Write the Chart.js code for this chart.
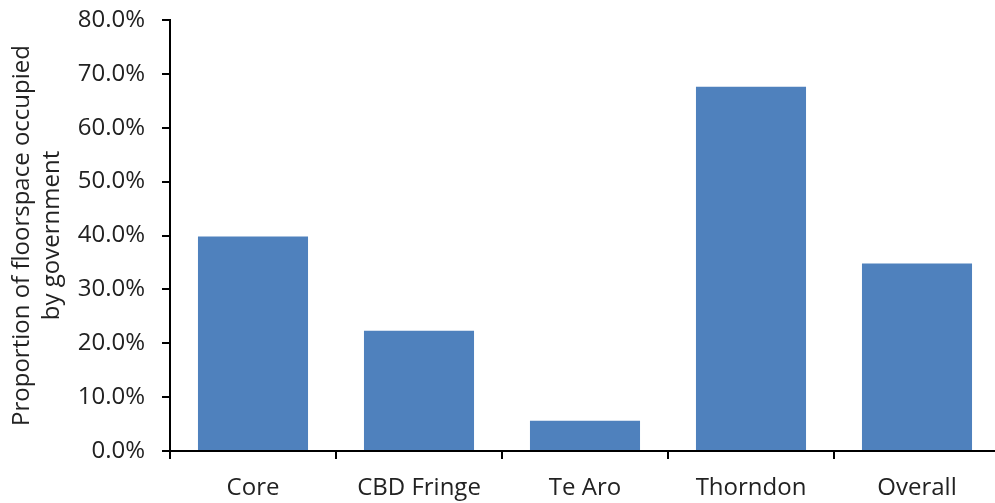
<!DOCTYPE html>
<html>
<head>
<meta charset="utf-8">
<title>Government floorspace share</title>
<script src="https://cdn.jsdelivr.net/npm/chart.js@4/dist/chart.umd.min.js"></script>
<style>
  html, body { margin: 0; padding: 0; background: #fff; overflow: hidden; }
  #wrap { width: 1000px; height: 503px; position: relative; }
</style>
</head>
<body>
<div id="wrap"><canvas id="chart"></canvas></div>
<script>
// 数据
const areas = ['Core', 'CBD Fringe', 'Te Aro', 'Thorndon', 'Overall'];
const govShare = [39.8, 22.3, 5.6, 67.6, 34.8];
const yTicks = [0, 10, 20, 30, 40, 50, 60, 70, 80];
const yTitle = ['Proportion of floorspace occupied', 'by government'];

const textColor = '#222';
const fontFamily = '"Open Sans", "Noto Sans", sans-serif';

new Chart(document.getElementById('chart'), {
  type: 'bar',
  data: {
    labels: areas,
    datasets: [{
      data: govShare,
      backgroundColor: '#4f81bd',
      borderWidth: 0,
      categoryPercentage: 1,
      barPercentage: 0.663
    }]
  },
  options: {
    responsive: true,
    maintainAspectRatio: false,
    animation: false,
    layout: { padding: { top: 20, left: 0, right: 0, bottom: 0 } },
    plugins: {
      legend: { display: false },
      tooltip: { enabled: false }
    },
    scales: {
      x: {
        grid: { drawOnChartArea: false, color: '#000', lineWidth: 2, tickLength: 8, offset: true },
        border: { color: '#000', width: 2 },
        ticks: { color: textColor, padding: 15, font: { family: fontFamily, size: 24 }, maxRotation: 0 },
        afterFit: (s) => { s.height = 52; }
      },
      y: {
        min: yTicks[0],
        max: yTicks[yTicks.length - 1],
        afterBuildTicks: (s) => { s.ticks = yTicks.map(v => ({ value: v })); },
        grid: { drawOnChartArea: false, color: '#000', lineWidth: 2, tickLength: 8 },
        border: { color: '#000', width: 2 },
        ticks: {
          color: textColor,
          padding: 17,
          font: { family: fontFamily, size: 24 },
          callback: (v) => v.toFixed(1) + '%'
        },
        title: {
          display: true,
          text: yTitle,
          color: textColor,
          font: { family: fontFamily, size: 24, lineHeight: 1.25 },
          padding: { top: 7, bottom: 0 }
        },
        afterFit: (s) => { s.width = 170; s.paddingTop = 0; s.paddingBottom = 0; }
      }
    }
  }
});
</script>
</body>
</html>
